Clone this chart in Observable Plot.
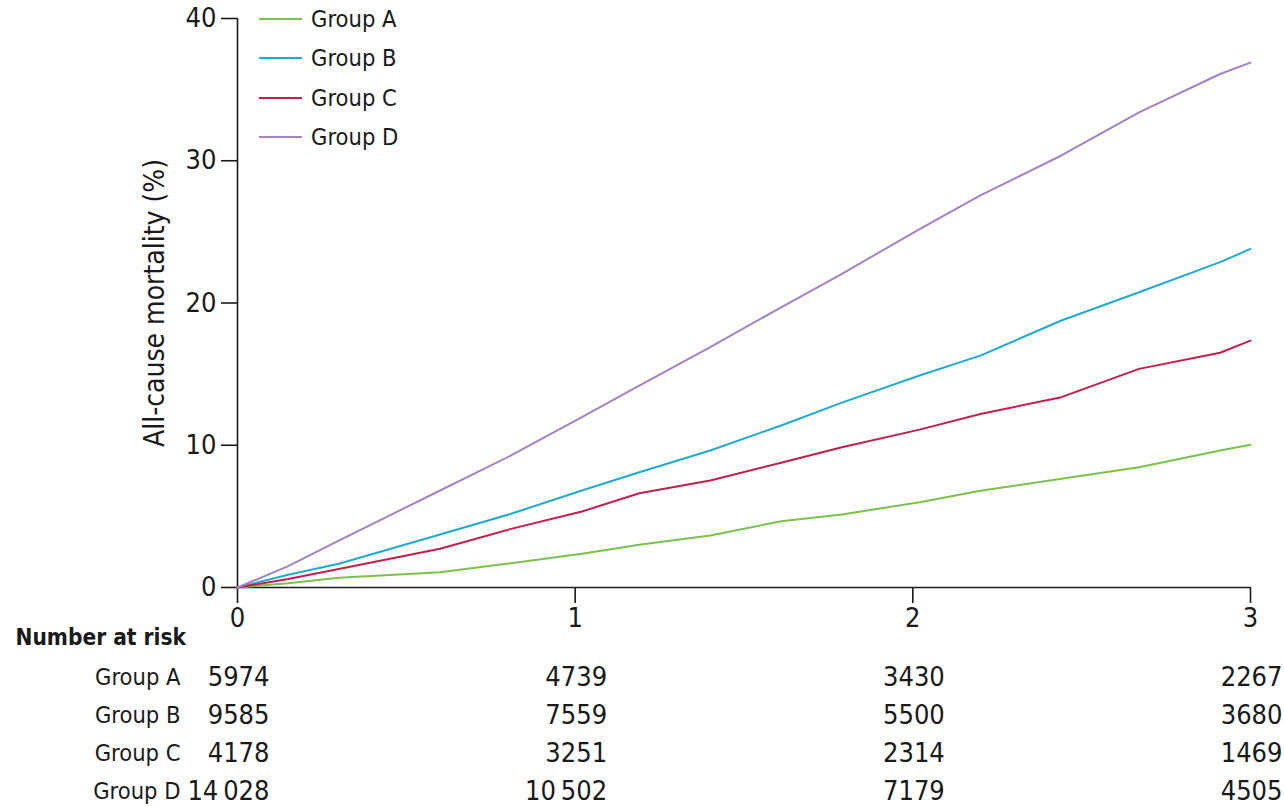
<!DOCTYPE html>
<html><head><meta charset="utf-8">
<script src="https://cdn.jsdelivr.net/npm/d3@7"></script>
<script src="https://cdn.jsdelivr.net/npm/@observablehq/plot@0.6"></script>
<style>
body{margin:0;background:#fff;font-family:"Liberation Sans Narrow","DejaVu Sans Condensed",sans-serif;color:#1a1a1a;}
#wrap{position:relative;width:1284px;height:807px;}
#legend{position:absolute;left:259px;top:0;font-size:23.5px;}
.item{position:absolute;left:0;height:30px;display:flex;align-items:center;white-space:nowrap;}
.sw{width:43px;height:2px;margin-right:9px;}
</style></head><body><div id="wrap"><div id="legend"></div></div>
<script>
const years  = [0, 0.15, 0.3, 0.6, 0.81, 1.02, 1.19, 1.4, 1.61, 1.79, 2.02, 2.2, 2.44, 2.67, 2.91, 3.0];
const groupA = [0, 0.3, 0.68, 1.08, 1.71, 2.37, 3.0, 3.66, 4.66, 5.13, 6.0, 6.8, 7.64, 8.46, 9.63, 10.03];
const groupB = [0, 0.9, 1.67, 3.73, 5.18, 6.82, 8.1, 9.63, 11.39, 13.0, 14.9, 16.3, 18.77, 20.76, 22.87, 23.8];
const groupC = [0, 0.6, 1.3, 2.72, 4.12, 5.34, 6.63, 7.52, 8.77, 9.86, 11.1, 12.2, 13.38, 15.37, 16.5, 17.36];
const groupD = [0, 1.5, 3.3, 6.82, 9.28, 11.97, 14.2, 16.9, 19.7, 22.05, 25.2, 27.56, 30.37, 33.4, 36.1, 36.9];
const groups = ["Group A", "Group B", "Group C", "Group D"];
const colors = ["#7cc04e", "#1fabd1", "#c41e4a", "#a383c6"];
const yTicks = [0, 10, 20, 30, 40];
const xTicks = [0, 1, 2, 3];
const riskTimes = [0, 1, 2, 3];
const riskA = ["5974", "4739", "3430", "2267"];
const riskB = ["9585", "7559", "5500", "3680"];
const riskC = ["4178", "3251", "2314", "1469"];
const riskD = ["14\u2009028", "10\u2009502", "7179", "4505"];

const series = [groupA, groupB, groupC, groupD];
const risks = [riskA, riskB, riskC, riskD];
const rows = [];
series.forEach((vals, i) => vals.forEach((v, j) => rows.push({t: years[j], v, g: groups[i]})));

const font = '"Liberation Sans Narrow","DejaVu Sans Condensed",sans-serif';
const ink = "#1a1a1a";
const marks = [
  Plot.ruleX([0], {y1: 0, y2: 40, stroke: ink, strokeWidth: 1.6}),
  Plot.ruleY([0], {x1: 0, x2: 3, stroke: ink, strokeWidth: 1.6}),
  Plot.axisY({ticks: yTicks, tickSize: 16, tickPadding: 5, label: null, stroke: ink, fill: ink, strokeWidth: 1.6}),
  Plot.axisX({ticks: xTicks, tickFormat: d => String(d), tickSize: 16, tickPadding: 4, label: null, stroke: ink, fill: ink, strokeWidth: 1.6}),
  Plot.line(rows, {x: "t", y: "v", z: "g", stroke: "g", strokeWidth: 2}),
  Plot.text(["All-cause mortality (%)"], {frameAnchor: "left", textAnchor: "middle", rotate: -90, dx: -82, fill: ink, fontSize: 28}),
  Plot.text(["Number at risk"], {x: () => 0, y: () => 0, dx: -222, dy: 50, textAnchor: "start", fontWeight: 600, fontSize: 22.5, fill: ink})
];
groups.forEach((g, i) => {
  marks.push(Plot.text([g], {x: () => 0, y: () => 0, dx: -57, dy: 90 + 38 * i, textAnchor: "end", fontSize: 23.5, fill: ink}));
  marks.push(Plot.text(riskTimes.map((t, j) => ({t, n: risks[i][j]})), {x: "t", y: () => 0, text: "n", dx: 32, dy: 90 + 38 * i, textAnchor: "end", fill: ink}));
});

const chart = Plot.plot({
  width: 1284, height: 807,
  marginLeft: 237, marginRight: 34, marginTop: 18, marginBottom: 220,
  x: {domain: [0, 3]},
  y: {domain: [0, 40]},
  color: {domain: groups, range: colors},
  style: {fontFamily: font, fontSize: "27px", background: "#fff", color: ink, overflow: "visible"},
  marks
});
document.getElementById("wrap").prepend(chart);

const legend = document.getElementById("legend");
groups.forEach((g, i) => {
  const it = document.createElement("div");
  it.className = "item";
  it.style.top = (4 + 39.3 * i) + "px";
  it.innerHTML = `<span class="sw" style="background:${colors[i]}"></span><span>${g}</span>`;
  legend.appendChild(it);
});
</script></body></html>
